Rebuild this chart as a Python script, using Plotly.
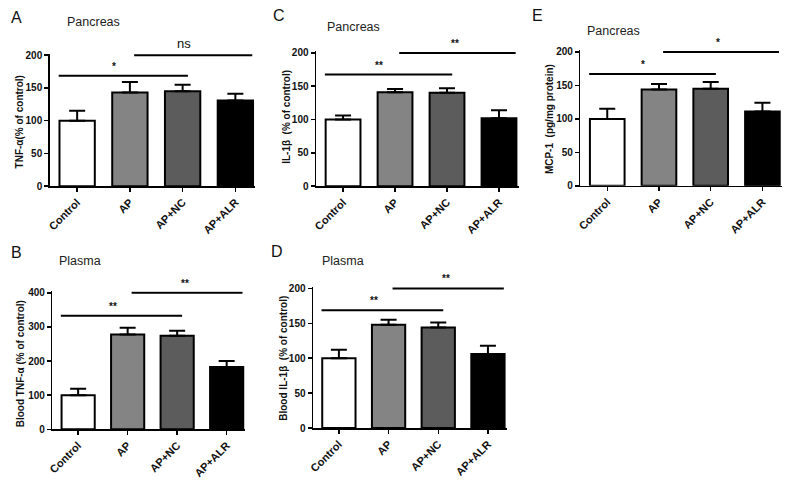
import plotly.graph_objects as go

W, H = 794, 483

categories = ["Control", "AP", "AP+NC", "AP+ALR"]
bar_colors = ["#ffffff", "#848484", "#5c5c5c", "#000000"]

tnf_pancreas = [100, 143, 145, 131]
tnf_pancreas_err = [15, 16, 10, 10]
tnf_plasma = [100, 278, 274, 183]
tnf_plasma_err = [19, 20, 15, 17]
il1b_pancreas = [100, 141, 140, 102]
il1b_pancreas_err = [6, 5, 7, 12]
il1b_plasma = [100, 148, 144, 106]
il1b_plasma_err = [12, 7, 7, 12]
mcp1_pancreas = [100, 144, 145, 111]
mcp1_pancreas_err = [15, 8, 10, 13]

# significance bars: (lower line y, upper line y), labels
sig_lines = {
    "A": (168.5, 200), "B": (333, 400), "C": (167.5, 200), "D": (168.7, 200), "E": (167, 200),
}
sig_labels = {
    "A": ("*", "ns"), "B": ("**", "**"), "C": ("**", "**"), "D": ("**", "**"), "E": ("*", "*"),
}

# panel definitions: letter, tissue, y title, values, errors, ymax, dtick, pixel box (x0, x1, ytop, ybottom)
panels = [
    ("A", "Pancreas", "TNF-α(% of control)", tnf_pancreas, tnf_pancreas_err, 200, 50, (45, 252, 50.7, 186)),
    ("B", "Plasma", "Blood TNF-α (% of control)", tnf_plasma, tnf_plasma_err, 400, 100, (47.7, 242, 293.3, 434.3)),
    ("C", "Pancreas", "IL-1β  (% of control)", il1b_pancreas, il1b_pancreas_err, 200, 50, (313, 517, 48.3, 186)),
    ("D", "Plasma", "Blood IL-1β  (% of control)", il1b_plasma, il1b_plasma_err, 200, 50, (310, 505, 288.7, 433)),
    ("E", "Pancreas", "MCP-1  (pg/mg protein)", mcp1_pancreas, mcp1_pancreas_err, 200, 50, (579, 782, 47.3, 185.7)),
]

FONT = "Arial, Liberation Sans, sans-serif"

fig = go.Figure()
layout = dict(
    width=W, height=H, margin=dict(l=0, r=0, t=0, b=0),
    paper_bgcolor="white", plot_bgcolor="white", showlegend=False,
    font=dict(family=FONT, color="#111111"),
)
shapes = []
annotations = []

for i, (letter, tissue, ytitle, vals, errs, ymax, dtick, box) in enumerate(panels):
    n = "" if i == 0 else str(i + 1)
    xa, ya = "x" + n, "y" + n
    x0, x1, yt, yb = box
    fig.add_trace(go.Bar(
        x=list(range(len(categories))), y=vals, xaxis=xa, yaxis=ya,
        marker=dict(color=bar_colors, line=dict(color="black", width=2)),
        width=0.67,
        error_y=dict(type="data", array=errs, arrayminus=[0] * len(errs), symmetric=False,
                     color="black", thickness=2, width=8),
        hoverinfo="skip",
    ))
    layout["xaxis" + n] = dict(
        domain=[x0 / W, x1 / W], anchor=ya, range=[-0.52, 3.38],
        tickmode="array", tickvals=list(range(len(categories))), ticktext=categories,
        tickangle=-45, tickfont=dict(size=11, family=FONT, weight="bold", color="#111"),
        showline=True, linecolor="black", linewidth=1.5, ticks="outside", ticklen=4,
        tickwidth=1.5, tickcolor="black", showgrid=False, zeroline=False,
    )
    layout["yaxis" + n] = dict(
        domain=[1 - yb / H, 1 - yt / H], anchor=xa, range=[0, ymax * 1.012],
        tickmode="linear", tick0=0, dtick=dtick,
        tickfont=dict(size=10, family=FONT, weight="bold", color="#111"),
        showline=True, linecolor="black", linewidth=1.5, ticks="outside", ticklen=4,
        tickwidth=1.5, tickcolor="black", showgrid=False, zeroline=False,
    )
    low, high = sig_lines[letter]
    lab_low, lab_high = sig_labels[letter]
    shapes.append(dict(type="line", xref=xa, yref=ya, x0=-0.35, x1=2.1, y0=low, y1=low,
                       line=dict(color="black", width=2)))
    shapes.append(dict(type="line", xref=xa, yref=ya, x0=1.08, x1=3.32, y0=high, y1=high,
                       line=dict(color="black", width=2)))
    annotations.append(dict(xref=xa, yref=ya, x=0.7, y=low, text=lab_low, showarrow=False,
                            yanchor="bottom", yshift=2, font=dict(size=10, family=FONT, weight="bold")))
    annotations.append(dict(xref=xa, yref=ya, x=2.15 if lab_high != "ns" else 2.03, y=high,
                            text=lab_high, showarrow=False, yanchor="bottom", yshift=2,
                            font=dict(size=13 if lab_high == "ns" else 10, family=FONT,
                                      weight="normal" if lab_high == "ns" else "bold")))

# panel letters, tissue titles and y titles (pixel positions)
letter_pos = {"A": (4, 14), "B": (4, 254), "C": (268, 12), "D": (266, 253), "E": (528, 12)}
tissue_pos = {"A": (60, 18), "B": (52, 262), "C": (322, 23), "D": (317, 262), "E": (584, 28)}
ytitle_pos = {"A": (15, 120), "B": (16, 367), "C": (283, 115), "D": (280, 362), "E": (548, 118)}
for letter, tissue, ytitle, *_ in panels:
    lx, ly = letter_pos[letter]
    annotations.append(dict(xref="paper", yref="paper", x=lx / W, y=1 - ly / H, text=letter,
                            showarrow=False, xanchor="left", yanchor="middle",
                            font=dict(size=16, family=FONT, color="#111")))
    tx, ty = tissue_pos[letter]
    annotations.append(dict(xref="paper", yref="paper", x=tx / W, y=1 - ty / H, text=tissue,
                            showarrow=False, xanchor="left", yanchor="middle",
                            font=dict(size=12.5, family=FONT, color="#222")))
    yx, yy = ytitle_pos[letter]
    annotations.append(dict(xref="paper", yref="paper", x=yx / W, y=1 - yy / H, text=ytitle,
                            showarrow=False, xanchor="center", yanchor="middle", textangle=-90,
                            font=dict(size=10, family=FONT, weight="bold", color="#111")))

layout["shapes"] = shapes
layout["annotations"] = annotations
fig.update_layout(**layout)
fig.write_html("out.html", config={"displayModeBar": False, "staticPlot": True},
               post_script="document.body.style.margin='0px';document.body.style.overflow='hidden';")
